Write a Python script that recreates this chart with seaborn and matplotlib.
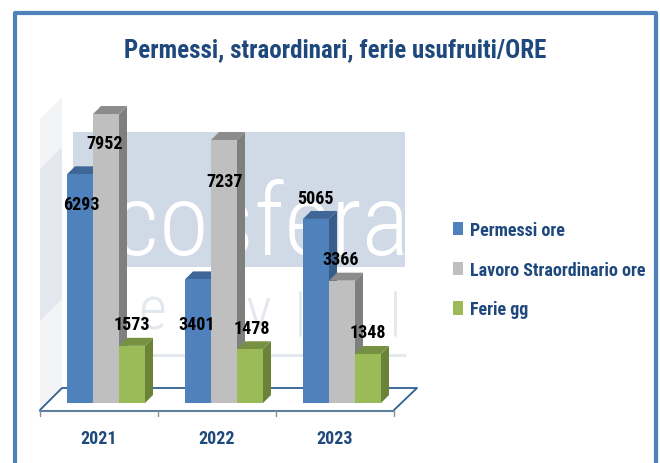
import pandas as pd
import matplotlib
matplotlib.use('Agg')
import matplotlib.pyplot as plt
import seaborn as sns
from matplotlib.patches import Polygon, Rectangle

# Dati
anni = ['2021', '2022', '2023']
voci = ['Permessi ore', 'Lavoro Straordinario ore', 'Ferie gg']
permessi = [6293, 3401, 5065]
straordinario = [7952, 7237, 3366]
ferie = [1573, 1478, 1348]

colori = ['#4f81bd', '#bfbfbf', '#9bbb59']
lati = ['#385d8a', '#7f7f7f', '#6b8239']
tetti = ['#3e6797', '#8c8c8c', '#779142']
blu_testo = '#1f497d'

sns.set_theme(style='white')
plt.rcParams['font.family'] = ['Roboto Condensed', 'DejaVu Sans']

df = pd.DataFrame({
    'anno': anni * 3,
    'voce': [voci[0]] * 3 + [voci[1]] * 3 + [voci[2]] * 3,
    'valore': permessi + straordinario + ferie,
})

W, H = 660, 464
fig = plt.figure(figsize=(W / 100, H / 100), dpi=100, facecolor='white')

# Sfondo in coordinate pixel: cornice, parete, filigrana, pavimento
bg = fig.add_axes([0, 0, 1, 1], zorder=0)
bg.set_xlim(0, W)
bg.set_ylim(H, 0)
bg.axis('off')

bg.add_patch(Rectangle((73, 133), 332, 135, color='#d0d9e6', lw=0))
bg.text(261, 255, 'cosfera', color='white', fontsize=73, fontweight=300, ha='center', va='baseline',
        clip_on=True, family=['Noto Sans ExtraCondensed', 'Roboto Condensed'])
bg.add_patch(Polygon([(40, 120), (62, 98), (62, 388), (40, 411)], color='#f3f4f5', lw=0))
bg.add_patch(Polygon([(40, 170), (62, 148), (62, 300), (40, 322)], color='#e4e7ed', lw=0))
bg.plot([130, 405], [356, 356], color='#e3e8ef', lw=2)
bg.text(152, 330, 'e', color='#e3e8ef', fontsize=44, ha='center', va='baseline', fontweight=300)
bg.text(258, 330, 'v', color='#e3e8ef', fontsize=44, ha='center', va='baseline', fontweight=300)
for x in [300, 395]:
    bg.plot([x, x], [293, 336], color='#e3e8ef', lw=2)

bg.add_patch(Polygon([(40, 411), (62, 389), (417, 389), (394, 411)], facecolor='white',
                     edgecolor='none'))
bg.plot([40, 62, 417, 394], [411, 389, 389, 411], color='#2f5f92', lw=1.3)
bg.plot([40, 394], [412, 412], color='#5f7f9f', lw=1.5)
for x in [40, 158, 276, 394]:
    bg.plot([x, x], [412, 417], color='#8c8c8c', lw=1)

bg.plot([14.5, 14.5, 655.5, 655.5], [H, 13.5, 13.5, H], color='#4f81bd', lw=3)

fig.text(335 / W, 1 - 50 / H, 'Permessi, straordinari, ferie usufruiti/ORE', color=blu_testo,
         fontsize=18, fontweight='bold', ha='center', va='center')

# Barre
scala = 0.03634
ax = fig.add_axes([47 / W, 1 - 404 / H, 354 / W, 305 / H], zorder=2)
ax.patch.set_visible(False)
sns.barplot(data=df, x='anno', y='valore', hue='voce', palette=colori, saturation=1,
            width=78 / 118, gap=0, linewidth=0, legend=True, ax=ax)
ax.set_xlim(-0.5, 2.5)
ax.set_ylim(0, 305 / scala)
ax.set_xlabel('')
ax.set_ylabel('')
ax.set_yticks([])
ax.set_xticks([])
sns.despine(ax=ax, left=True, bottom=True)

# Lati e tetti 3D ricavati dalle barre
dx = 8 / 118
dy = 8 / scala
barre = [c for c in ax.containers]
for i, cont in enumerate(barre):
    for b in cont:
        b.set_zorder(3)
        x0, x1 = b.get_x(), b.get_x() + b.get_width()
        y1 = b.get_height()
        ax.add_patch(Polygon([(x1, 0), (x1 + dx, dy), (x1 + dx, y1 + dy), (x1, y1)],
                             color=lati[i], lw=0, zorder=1 + i * 0.1, clip_on=False))
        ax.add_patch(Polygon([(x0, y1), (x0 + dx, y1 + dy), (x1 + dx, y1 + dy), (x1, y1)],
                             color=tetti[i], lw=0, zorder=1 + i * 0.1, clip_on=False))

# Etichette dei valori: spostamento in pixel rispetto alla cima della barra
sposta_x = [[1, -1, -1], [-1, 1, -1], [0, 2, 0]]
sposta_y = [[-30, -45, 21], [-29, -41, 22], [22, 21, 22]]
for i, cont in enumerate(barre):
    for j, b in enumerate(cont):
        ax.annotate(str(int(b.get_height())), (b.get_x() + b.get_width() / 2, b.get_height()),
                    xytext=(sposta_x[i][j] * 0.72, sposta_y[i][j] * 0.72),
                    textcoords='offset points', ha='center', va='center', color='black',
                    fontsize=13, fontweight='bold', zorder=5, annotation_clip=False)

# Anni sotto l'asse
for j, a in enumerate(anni):
    fig.text((99 + 118 * j) / W, 1 - 439 / H, a, color=blu_testo, fontsize=13,
             fontweight='bold', ha='center', va='center')

# Legenda
leg = ax.legend(loc='upper left', bbox_to_anchor=(453 / W, 1 - 222 / H),
                bbox_transform=fig.transFigure, frameon=False, ncol=1,
                handlelength=0.58, handleheight=0.75, handletextpad=0.35, labelspacing=1.2,
                borderpad=0, borderaxespad=0, prop={'weight': 'bold', 'size': 13})
for t in leg.get_texts():
    t.set_color(blu_testo)

fig.savefig('out.png', dpi=100)
